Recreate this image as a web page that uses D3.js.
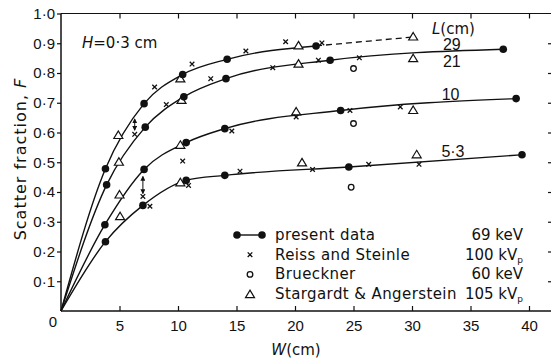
<!DOCTYPE html>
<html>
<head>
<meta charset="utf-8">
<script src="https://cdn.jsdelivr.net/npm/d3@7"></script>
<style>
  body { margin: 0; background: #fff; }
  svg { display: block; font-family: "Liberation Sans", Arial, sans-serif; }
  .txt { font-family: "DejaVu Sans", sans-serif; }
</style>
</head>
<body>
<div id="chart"></div>
<script>
// present data (filled circles) per absorber length L, as [W, F]
const present29 = [[3.8, 0.478], [7.1, 0.697], [10.4, 0.795], [14.2, 0.846], [21.8, 0.891]];
const present21 = [[3.9, 0.424], [7.2, 0.618], [10.5, 0.72], [14.1, 0.781], [23.0, 0.843], [37.8, 0.88]];
const present10 = [[3.75, 0.29], [7.1, 0.476], [10.7, 0.566], [14.0, 0.613], [23.9, 0.674], [38.9, 0.714]];
const present53 = [[3.8, 0.233], [7.0, 0.355], [10.7, 0.439], [14.0, 0.456], [24.6, 0.484], [39.4, 0.525]];
// dashed extension of the L=29 curve
const dashed29 = [[21.8, 0.891], [30.1, 0.921]];

const reissSteinle = [
  [8.0, 0.753], [11.2, 0.83], [15.8, 0.874], [12.8, 0.781], [9.0, 0.694], [6.3, 0.594],
  [7.0, 0.385], [7.6, 0.352], [10.9, 0.422], [10.4, 0.504], [14.6, 0.605], [15.3, 0.47],
  [19.2, 0.905], [22.3, 0.901], [18.1, 0.818], [22.0, 0.843], [25.5, 0.851],
  [20.1, 0.652], [24.7, 0.674], [29.0, 0.686], [21.5, 0.476], [26.3, 0.493], [30.6, 0.493]
];
const brueckner = [[25.0, 0.815], [25.0, 0.63], [24.8, 0.416]];
const stargardt = [
  [4.9, 0.59], [4.95, 0.50], [10.2, 0.78], [10.3, 0.708], [10.2, 0.557],
  [5.0, 0.39], [5.05, 0.317], [10.2, 0.431],
  [20.3, 0.891], [20.3, 0.83], [30.1, 0.921], [30.1, 0.848],
  [20.1, 0.669], [30.1, 0.674], [20.6, 0.498], [30.4, 0.525]
];
// vertical double arrows [W, F from, F to]
const arrows = [[6.3, 0.645, 0.608], [7.0, 0.452, 0.395]];

// curve labels [text, W, F]
const lengthLabels = [['29', 33.4, 0.876], ['21', 33.4, 0.82], ['10', 33.3, 0.71], ['5·3', 33.5, 0.516]];

const xTicks = [5, 10, 15, 20, 25, 30, 35, 40];
const yTicks = [0.1, 0.2, 0.3, 0.4, 0.5, 0.6, 0.7, 0.8, 0.9, 1.0];

const legendItems = [
  { name: 'present data', value: '69 keV', sub: '', type: 'line' },
  { name: 'Reiss and Steinle', value: '100 kV', sub: 'p', type: 'cross' },
  { name: 'Brueckner', value: '60 keV', sub: '', type: 'open' },
  { name: 'Stargardt & Angerstein', value: '105 kV', sub: 'p', type: 'tri' }
];

const width = 551, height = 359;
const svg = d3.select('#chart').append('svg')
  .attr('width', width)
  .attr('height', height);

const x = d3.scaleLinear().domain([0, 40]).range([61, 529]);
const y = d3.scaleLinear().domain([0, 1]).range([311, 13.5]);

const ink = '#111';
const fmt = d => d3.format('.1f')(d).replace('.', '·');

// frame
svg.append('line').attr('x1', x(0)).attr('x2', x(0)).attr('y1', y(0)).attr('y2', y(1))
  .attr('stroke', ink).attr('stroke-width', 1.5);
svg.append('line').attr('x1', x(0)).attr('x2', width).attr('y1', y(0)).attr('y2', y(0))
  .attr('stroke', ink).attr('stroke-width', 1.5);
svg.append('line').attr('x1', x(0)).attr('x2', width).attr('y1', y(1)).attr('y2', y(1))
  .attr('stroke', ink).attr('stroke-width', 1.2);

// bottom axis (ticks inward)
const xAxis = svg.append('g')
  .attr('transform', `translate(0,${y(0)})`)
  .call(d3.axisBottom(x).tickValues(xTicks).tickSize(-5).tickPadding(9).tickFormat(d3.format('d')));
xAxis.select('.domain').remove();

// top ticks
svg.append('g')
  .attr('transform', `translate(0,${y(1)})`)
  .call(d3.axisTop(x).tickValues(xTicks).tickSize(-5).tickFormat(''))
  .select('.domain').remove();

// left axis
const yAxis = svg.append('g')
  .attr('transform', `translate(${x(0)},0)`)
  .call(d3.axisLeft(y).tickValues(yTicks).tickSize(4).tickPadding(2).tickFormat(fmt));
yAxis.select('.domain').remove();

// right side ticks
svg.append('g')
  .attr('transform', `translate(${width},0)`)
  .call(d3.axisRight(y).tickValues(yTicks.slice(0, 9)).tickSize(-3).tickFormat(''))
  .select('.domain').remove();

svg.selectAll('.tick line').attr('stroke', ink).attr('stroke-width', 1.2);
svg.selectAll('.tick text').attr('fill', ink).attr('font-size', 15);

// origin label
svg.append('text').attr('x', x(0) - 8).attr('y', y(0) + 16)
  .attr('text-anchor', 'middle').attr('font-size', 15).attr('fill', ink).text('0');

// axis titles
svg.append('text').attr('class', 'txt')
  .attr('transform', `translate(26,159) rotate(-90)`)
  .attr('text-anchor', 'middle').attr('font-size', 16).attr('letter-spacing', 1).attr('fill', ink)
  .html('Scatter fraction, <tspan font-style="italic">F</tspan>');
svg.append('text').attr('class', 'txt')
  .attr('x', 296).attr('y', 355)
  .attr('text-anchor', 'middle').attr('font-size', 15).attr('fill', ink)
  .html('<tspan font-style="italic">W</tspan>(cm)');

// curves
const line = d3.line().x(d => x(d[0])).y(d => y(d[1])).curve(d3.curveMonotoneX);
[present29, present21, present10, present53].forEach(pts => {
  svg.append('path')
    .datum([[0, 0]].concat(pts))
    .attr('d', line)
    .attr('fill', 'none')
    .attr('stroke', ink)
    .attr('stroke-width', 1.4);
});
svg.append('path')
  .datum(dashed29)
  .attr('d', d3.line().x(d => x(d[0])).y(d => y(d[1])))
  .attr('fill', 'none')
  .attr('stroke', ink)
  .attr('stroke-width', 1.3)
  .attr('stroke-dasharray', '6,4');

// markers
function drawCross(g, cx, cy) {
  g.append('path')
    .attr('d', `M${cx - 2.3},${cy - 2.3}L${cx + 2.3},${cy + 2.3}M${cx - 2.3},${cy + 2.3}L${cx + 2.3},${cy - 2.3}`)
    .attr('stroke', ink).attr('stroke-width', 1.3).attr('fill', 'none');
}
function drawTri(g, cx, cy) {
  g.append('path')
    .attr('d', `M${cx},${cy - 4.5}L${cx + 4.5},${cy + 3}L${cx - 4.5},${cy + 3}Z`)
    .attr('stroke', ink).attr('stroke-width', 1.2).attr('fill', '#fff');
}
function drawOpen(g, cx, cy) {
  g.append('circle').attr('cx', cx).attr('cy', cy).attr('r', 2.8)
    .attr('stroke', ink).attr('stroke-width', 1.3).attr('fill', '#fff');
}
function drawDot(g, cx, cy) {
  g.append('circle').attr('cx', cx).attr('cy', cy).attr('r', 3.8).attr('fill', ink);
}

const marks = svg.append('g');
stargardt.forEach(d => drawTri(marks, x(d[0]), y(d[1])));
brueckner.forEach(d => drawOpen(marks, x(d[0]), y(d[1])));
reissSteinle.forEach(d => drawCross(marks, x(d[0]), y(d[1])));
[present29, present21, present10, present53].forEach(pts =>
  pts.forEach(d => drawDot(marks, x(d[0]), y(d[1]))));

// double arrows
svg.append('defs').append('marker')
  .attr('id', 'head').attr('viewBox', '0 0 6 6').attr('refX', 5).attr('refY', 3)
  .attr('markerWidth', 5).attr('markerHeight', 5).attr('orient', 'auto-start-reverse')
  .append('path').attr('d', 'M0,0L6,3L0,6Z').attr('fill', ink);
arrows.forEach(a => {
  svg.append('line')
    .attr('x1', x(a[0])).attr('x2', x(a[0]))
    .attr('y1', y(a[1])).attr('y2', y(a[2]))
    .attr('stroke', ink).attr('stroke-width', 1)
    .attr('marker-start', 'url(#head)').attr('marker-end', 'url(#head)');
});

// text annotations
svg.append('text').attr('class', 'txt').attr('x', 82).attr('y', 48).attr('font-size', 15).attr('fill', ink)
  .html('<tspan font-style="italic">H</tspan>=0·3 cm');
svg.append('text').attr('class', 'txt').attr('x', 432).attr('y', 34).attr('font-size', 15).attr('fill', ink)
  .html('<tspan font-style="italic">L</tspan>(cm)');
lengthLabels.forEach(l => {
  svg.append('text').attr('x', x(l[1])).attr('y', y(l[2]))
    .attr('text-anchor', 'middle').attr('font-size', 16).attr('fill', ink).text(l[0]);
});

// legend
const legend = svg.append('g');
legendItems.forEach((item, i) => {
  const cy = 235 + i * 19.7;
  if (item.type === 'line') {
    legend.append('line').attr('x1', 237).attr('x2', 262).attr('y1', cy).attr('y2', cy)
      .attr('stroke', ink).attr('stroke-width', 1.4);
    drawDot(legend, 237, cy);
    drawDot(legend, 262, cy);
  } else if (item.type === 'cross') {
    drawCross(legend, 250, cy);
  } else if (item.type === 'open') {
    drawOpen(legend, 250, cy);
  } else {
    drawTri(legend, 250, cy + 0.5);
  }
  legend.append('text').attr('class', 'txt').attr('x', 275).attr('y', cy + 5)
    .attr('font-size', 15).attr('letter-spacing', 0.4).attr('fill', ink).text(item.name);
  const v = legend.append('text').attr('class', 'txt').attr('x', 523).attr('y', cy + 5)
    .attr('text-anchor', 'end').attr('font-size', 15).attr('fill', ink).text(item.value);
  if (item.sub) {
    v.append('tspan').attr('font-size', 9).attr('dy', 3).text(item.sub);
  }
});
</script>
</body>
</html>
